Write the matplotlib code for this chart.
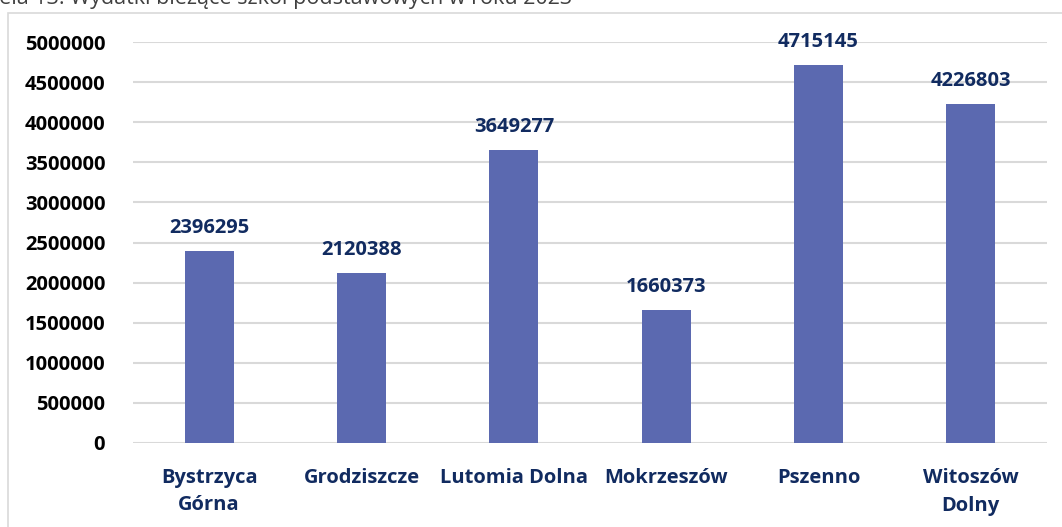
import matplotlib
matplotlib.use("Agg")
import matplotlib.pyplot as plt
from matplotlib.patches import Rectangle
import numpy as np

gminy = ["Bystrzyca\nGórna", "Grodziszcze", "Lutomia Dolna", "Mokrzeszów", "Pszenno", "Witoszów\nDolny"]
wydatki = [2396295, 2120388, 3649277, 1660373, 4715145, 4226803]
y_ticks = [0, 500000, 1000000, 1500000, 2000000, 2500000, 3000000, 3500000, 4000000, 4500000, 5000000]

BAR = "#5B69B0"
NAVY = "#112B60"
FONT = "Open Sans"

fig = plt.figure(figsize=(10.62, 5.27), dpi=100)
fig.patches.append(Rectangle((8 / 1062, -0.1), 1.2, 1 - 13 / 527 + 0.1, transform=fig.transFigure,
                             fill=False, edgecolor="#D9D9D9", linewidth=1.2))
fig.text(572 / 1062, 1 - 4 / 527, "Tabela 13. Wydatki bieżące szkół podstawowych w roku 2023",
         ha="right", va="baseline", fontsize=15.5, color="#404040", family=FONT)

ax = fig.add_axes([133 / 1062, 1 - 443 / 527, (1047 - 133) / 1062, (443 - 42) / 527])
x = np.arange(len(gminy))
bars = ax.bar(x, wydatki, width=0.32, color=BAR, zorder=2)

for b, v in zip(bars, wydatki):
    ax.annotate(str(v), (b.get_x() + b.get_width() / 2, v), xytext=(0, 18), textcoords="offset pixels",
                ha="center", va="baseline", fontsize=14.5, fontweight="bold", color=NAVY, family=FONT)

ax.set_xlim(-0.5, len(gminy) - 0.5)
ax.set_ylim(0, 5000000)
ax.set_yticks(y_ticks)
ax.set_yticklabels([str(t) for t in y_ticks], fontsize=14.5, fontweight="bold", family=FONT)
ax.set_xticks(x)
ax.set_xticklabels(gminy, fontsize=14.5, fontweight="bold", family=FONT, color=NAVY, linespacing=1.5)
ax.tick_params(axis="both", length=0)
ax.tick_params(axis="y", pad=20)
ax.tick_params(axis="x", pad=18)
ax.grid(axis="y", color="#D9D9D9", linewidth=1.5, zorder=0)
for s in ax.spines.values():
    s.set_visible(False)

fig.savefig("out.png", dpi=100)
